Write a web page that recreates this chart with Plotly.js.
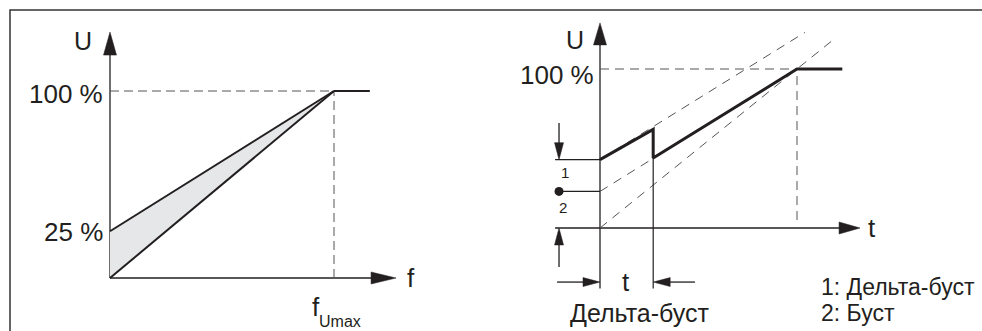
<!DOCTYPE html>
<html><head><meta charset="utf-8">
<script src="https://cdn.plot.ly/plotly-3.0.1.min.js"></script>
<style>html,body{margin:0;padding:0;background:#fff;} #chart{width:982px;height:331px;}</style>
</head><body><div id="chart"></div>
<script>
// ---------- Left panel: U/f characteristic (x = f / fUmax, y = U in %) ----------
const leftF = [0, 1];
const leftBoostU = [25, 100];      // upper boundary (25 % boost)
const leftLinearU = [0, 100];      // lower boundary (no boost)
const leftPlateauF = [1, 1.16];
const leftPlateauU = [100, 100];
const leftTickValues = [100, 25];
const leftTickLabels = ['100 %', '25 %'];
const leftXLabel = 'f';
const leftXTickMain = 'f';
const leftXTickSub = 'Umax';

// ---------- Right panel: delta boost over time (x = t / tUmax, y = U in %) ----------
const rightT = [0, 0.27, 0.27, 1, 1.23];
const rightU = [43, 62, 44, 100, 100];
const deltaLineT = [0, 1.04];   const deltaLineU = [43, 123];
const boostLineT = [0, 1];      const boostLineU = [23, 100];
const noBoostLineT = [0, 1.19]; const noBoostLineU = [0, 119];
const deltaBoostLevel = 43;
const boostLevel = 23;
const deltaTime = 0.27;
const rightTickValues = [100];
const rightTickLabels = ['100 %'];
const rightXLabel = 't';
const markerLabels = ['1', '2'];
const legendLines = ['1: Дельта-буст', '2: Буст'];
const deltaTimeLabel = 't';
const deltaCaption = 'Дельта-буст';

// ---------- styling ----------
const INK = '#231f20';
const DASH = '#555555';
const FILL = '#e6e7e8';
const FONT = 'Liberation Sans, Arial, sans-serif';

// pixel calibration of the two coordinate frames (layout only)
const W = 982, H = 331;
function rangeFrom(px0, pxPerUnit, lo, hi) { return [(lo - px0) / pxPerUnit, (hi - px0) / pxPerUnit]; }
const xr1 = rangeFrom(110, 224, 0, 491);
const xr2 = rangeFrom(600 - 491, 197, 0, 491);
const yr1 = [(278 - H) / 1.87, 278 / 1.87];
const yr2 = [(228 - H) / 1.59, 228 / 1.59];

function line(x, y, xa, ya, w, color, dash) {
  return {x: x, y: y, xaxis: xa, yaxis: ya, type: 'scatter', mode: 'lines',
          line: {color: color, width: w, dash: dash || 'solid'}, hoverinfo: 'skip'};
}

const traces = [
  // left fill between boost and linear curve
  {x: [leftF[0], leftF[1], leftF[0]], y: [leftBoostU[0], leftBoostU[1], leftLinearU[0]],
   xaxis: 'x', yaxis: 'y', type: 'scatter', mode: 'lines', fill: 'toself',
   fillcolor: FILL, line: {width: 0}, hoverinfo: 'skip'},
  line([leftF[0], leftF[1]], [leftTickValues[0], leftTickValues[0]], 'x', 'y', 1, DASH, '9px,5px'),
  line([leftF[1], leftF[1]], [leftLinearU[0], leftTickValues[0]], 'x', 'y', 1, DASH, '9px,5px'),
  line(leftF, leftBoostU, 'x', 'y', 2, INK),
  line(leftF, leftLinearU, 'x', 'y', 2, INK),
  line(leftPlateauF, leftPlateauU, 'x', 'y', 2, INK),

  // right dashed guides
  line([0, 1], [rightTickValues[0], rightTickValues[0]], 'x2', 'y2', 1, DASH, '9px,6px'),
  line([1, 1], [5, rightTickValues[0]], 'x2', 'y2', 1, DASH, '9px,6px'),
  line(deltaLineT, deltaLineU, 'x2', 'y2', 1, DASH, '9px,7px'),
  line(boostLineT, boostLineU, 'x2', 'y2', 1, DASH, '9px,7px'),
  line(noBoostLineT, noBoostLineU, 'x2', 'y2', 1, DASH, '9px,7px'),
  // level markers
  line([-0.228, 0], [deltaBoostLevel, deltaBoostLevel], 'x2', 'y2', 1.2, INK),
  line([-0.208, 0], [boostLevel, boostLevel], 'x2', 'y2', 1.2, INK),
  {x: [-0.208], y: [boostLevel], xaxis: 'x2', yaxis: 'y2', type: 'scatter', mode: 'markers',
   marker: {color: INK, size: 9, line: {width: 0}}, hoverinfo: 'skip'},
  // delta time vertical
  line([deltaTime, deltaTime], [-38, 62], 'x2', 'y2', 1.2, INK),
  // thick output curve
  line(rightT, rightU, 'x2', 'y2', 3, INK)
];

function seg(xref, yref, x0, y0, x1, y1, w) {
  return {type: 'line', xref: xref, yref: yref, x0: x0, y0: y0, x1: x1, y1: y1,
          line: {color: INK, width: w || 1.3}, layer: 'below'};
}
function head(xref, yref, x, y, dir, len, half) {
  let p;
  if (dir === 'right') p = `M0,0 L${-len},${half} L${-len},${-half} Z`;
  else if (dir === 'left') p = `M0,0 L${len},${half} L${len},${-half} Z`;
  else if (dir === 'up') p = `M0,0 L${-half},${-len} L${half},${-len} Z`;
  else p = `M0,0 L${-half},${len} L${half},${len} Z`;
  return {type: 'path', xref: xref, yref: yref, xsizemode: 'pixel', ysizemode: 'pixel',
          xanchor: x, yanchor: y, path: p, fillcolor: INK, line: {color: INK, width: 0.5}};
}

const shapes = [
  // frame
  {type: 'path', xref: 'paper', yref: 'paper',
   path: `M${10 / W},0 L${10 / W},${1 - 10 / H} L1,${1 - 10 / H}`,
   line: {color: '#333333', width: 1.5}},
  // left axes
  seg('x', 'y', 0, 0, 0, 120),
  head('x', 'y', 0, 131.5, 'up', 23, 6.5),
  seg('x', 'y', 0, 0, 1.17, 0),
  head('x', 'y', 1.277, 0, 'right', 25, 6),
  // right axes
  seg('x2', 'y2', 0, -38, 0, 116),
  head('x2', 'y2', 0, 129, 'up', 22, 6.5),
  seg('x2', 'y2', -0.228, 0, 1.22, 0),
  head('x2', 'y2', 1.32, 0, 'right', 21, 6),
  // level arrows
  seg('x2', 'y2', -0.208, 66, -0.208, 50),
  head('x2', 'y2', -0.208, deltaBoostLevel, 'down', 17, 4.5),
  seg('x2', 'y2', -0.208, -24.5, -0.208, -8),
  head('x2', 'y2', -0.208, 0, 'up', 17, 4.5),
  // delta time arrows
  seg('x2', 'y2', -0.218, -34, -0.06, -34),
  head('x2', 'y2', 0, -34, 'right', 17, 4.5),
  seg('x2', 'y2', 0.482, -34, 0.33, -34),
  head('x2', 'y2', deltaTime, -34, 'left', 17, 4.5)
];

function txt(text, xref, yref, x, y, xanchor, yanchor, size, xshift, yshift) {
  return {text: text, xref: xref, yref: yref, x: x, y: y, xanchor: xanchor, yanchor: yanchor,
          showarrow: false, xshift: xshift || 0, yshift: yshift || 0,
          font: {family: FONT, size: size, color: INK}};
}

const annotations = [
  txt('U', 'x', 'y', 0, 127, 'center', 'middle', 25, -27, 0),
  txt(leftTickLabels[0], 'x', 'y', 0, leftTickValues[0], 'right', 'middle', 26, -5, -3),
  txt(leftTickLabels[1], 'x', 'y', 0, leftTickValues[1], 'right', 'middle', 26, -5, -1),
  txt(leftXLabel, 'x', 'y', 1.344, 0, 'center', 'middle', 26, 0, 0),
  txt(leftXTickMain, 'x', 'y', 1.0, -6.4, 'right', 'top', 26, -12, 0),
  txt(leftXTickSub, 'x', 'y', 1.0, -17.5, 'left', 'top', 16, -17, 0),

  txt('U', 'x2', 'y2', -0.127, 118, 'center', 'middle', 25, 0, 0),
  txt(rightTickLabels[0], 'x2', 'y2', 0, rightTickValues[0], 'right', 'middle', 26, -4, -6),
  txt(rightXLabel, 'x2', 'y2', 1.381, 0, 'center', 'middle', 26, 0, 0),
  txt(markerLabels[0], 'x2', 'y2', -0.178, 35.2, 'center', 'middle', 15, 0, 0),
  txt(markerLabels[1], 'x2', 'y2', -0.188, 13.2, 'center', 'middle', 15, 0, 0),
  txt(deltaTimeLabel, 'x2', 'y2', 0.132, -34, 'center', 'middle', 26, 0, 0),
  txt(deltaCaption, 'x2', 'y2', 0.203, -53.5, 'center', 'middle', 25, 0, 0),
  txt(legendLines[0], 'x2', 'y2', 1.127, -37, 'left', 'middle', 23, -3, 0),
  txt(legendLines[1], 'x2', 'y2', 1.127, -53.5, 'left', 'middle', 23, -3, 0)
];

const hidden = {visible: false, fixedrange: true};
const layout = {
  width: W, height: H, margin: {l: 0, r: 0, t: 0, b: 0, pad: 0},
  paper_bgcolor: '#ffffff', plot_bgcolor: '#ffffff', showlegend: false,
  xaxis: Object.assign({domain: [0, 0.5], range: xr1}, hidden),
  yaxis: Object.assign({domain: [0, 1], range: yr1, anchor: 'x'}, hidden),
  xaxis2: Object.assign({domain: [0.5, 1], range: xr2, anchor: 'y2'}, hidden),
  yaxis2: Object.assign({domain: [0, 1], range: yr2, anchor: 'x2'}, hidden),
  shapes: shapes, annotations: annotations
};
Plotly.newPlot('chart', traces, layout, {staticPlot: true, displayModeBar: false});
</script></body></html>
